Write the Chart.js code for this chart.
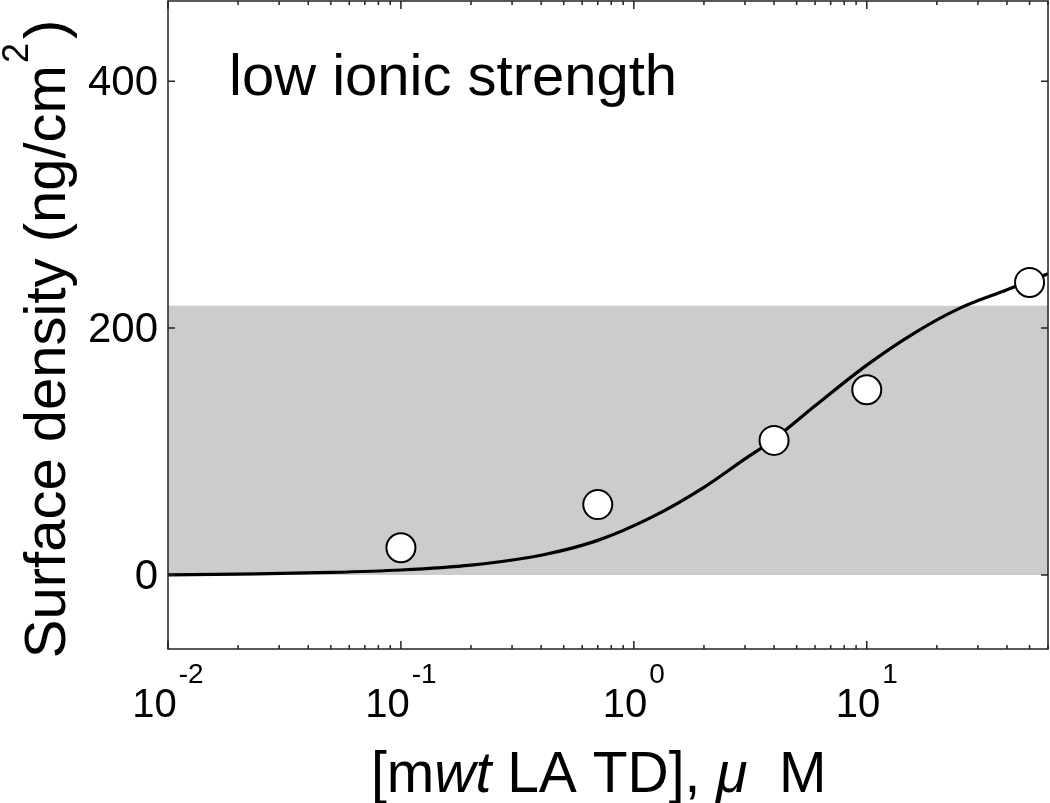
<!DOCTYPE html>
<html lang="en">
<head>
    <meta charset="UTF-8">
    <title>Surface density vs mwt LA TD</title>
    <script src="https://cdn.jsdelivr.net/npm/chart.js"></script>
    <style>
        body { margin: 0; background: #fff; }
        #wrap { width: 1050px; height: 803px; }
    </style>
</head>
<body>
    <div id="wrap"><canvas id="chart" width="1050" height="803"></canvas></div>

    <script>
        // measured points (open circles)
        const pointX = [0.1, 0.7, 4, 10, 50];
        const pointY = [22, 57, 109, 150, 237];

        // fitted curve
        const fitX = [0.01, 0.02, 0.05, 0.1, 0.2, 0.4, 0.7, 1.2, 2, 3, 4, 6, 10, 16, 25, 40, 60];
        const fitY = [0, 0.7, 2, 4, 8, 16, 28, 47, 71, 94, 110, 137, 170, 196, 216, 231, 244];

        // grey band from 0 up to this level
        const bandX = [0.01, 60];
        const bandTop = 218;

        const xMajorTicks = [0.01, 0.1, 1, 10];
        const xTickExp = ['-2', '-1', '0', '1'];
        const yTicks = [0, 200, 400];

        const FONT = '"Liberation Sans", Arial, Helvetica, sans-serif';

        // ticks, box and texts in MATLAB style
        const framePlugin = {
            id: 'frame',
            afterDatasetsDraw(chart) {
                const ctx = chart.ctx;
                const a = chart.chartArea;
                const xs = chart.scales.x;
                const ys = chart.scales.y;

                ctx.save();
                ctx.strokeStyle = '#222';
                ctx.lineWidth = 1.5;
                ctx.strokeRect(a.left, a.top, a.right - a.left, a.bottom - a.top);

                // x ticks, inward, bottom and top
                ctx.beginPath();
                for (let e = -2; e <= 1; e++) {
                    for (let m = 1; m <= 9; m++) {
                        const v = m * Math.pow(10, e);
                        if (v > xs.max) break;
                        const px = xs.getPixelForValue(v);
                        const len = m === 1 ? 8 : 4;
                        ctx.moveTo(px, a.bottom); ctx.lineTo(px, a.bottom - len);
                        ctx.moveTo(px, a.top); ctx.lineTo(px, a.top + len);
                    }
                }
                // y ticks, inward, left and right
                yTicks.forEach(v => {
                    const py = ys.getPixelForValue(v);
                    ctx.moveTo(a.left, py); ctx.lineTo(a.left + 7, py);
                    ctx.moveTo(a.right, py); ctx.lineTo(a.right - 7, py);
                });
                ctx.stroke();

                ctx.fillStyle = '#000';

                // y tick labels
                ctx.font = '42px ' + FONT;
                ctx.textAlign = 'right';
                ctx.textBaseline = 'middle';
                yTicks.forEach(v => {
                    ctx.fillText(String(v), a.left - 10, ys.getPixelForValue(v) + 2);
                });

                // x tick labels 10^n
                ctx.textBaseline = 'alphabetic';
                ctx.textAlign = 'left';
                xMajorTicks.forEach((v, i) => {
                    const px = xs.getPixelForValue(v);
                    ctx.font = '40px ' + FONT;
                    const w1 = ctx.measureText('10').width;
                    ctx.font = '28px ' + FONT;
                    const w2 = ctx.measureText(xTickExp[i]).width;
                    const x0 = px - (w1 + w2 + 2) / 2;
                    ctx.font = '40px ' + FONT;
                    ctx.fillText('10', x0, 717);
                    ctx.font = '28px ' + FONT;
                    ctx.fillText(xTickExp[i], x0 + w1 + 2, 683);
                });

                // annotation
                ctx.font = '58px ' + FONT;
                ctx.fillText('low ionic strength', 229, 95);

                // x title with italic parts
                const parts = [
                    ['[m', ''], ['wt', 'italic '], [' LA TD], ', ''], ['\u03bc', 'italic '], ['  M', '']
                ];
                let cx = 371;
                parts.forEach(p => {
                    ctx.font = p[1] + '57px ' + FONT;
                    ctx.fillText(p[0], cx, 792);
                    cx += ctx.measureText(p[0]).width;
                });

                // y title, rotated, with superscript 2
                ctx.translate(65, 340);
                ctx.rotate(-Math.PI / 2);
                ctx.font = '58px ' + FONT;
                const t1 = 'Surface density (ng/cm';
                const w1 = ctx.measureText(t1).width;
                ctx.font = '36px ' + FONT;
                const w2 = ctx.measureText('2').width + 4;
                ctx.font = '58px ' + FONT;
                const w3 = ctx.measureText(')').width;
                let ty = -(w1 + w2 + w3) / 2;
                ctx.fillText(t1, ty, 0);
                ty += w1 + 2;
                ctx.font = '36px ' + FONT;
                ctx.fillText('2', ty, -37);
                ty += w2;
                ctx.font = '58px ' + FONT;
                ctx.fillText(')', ty, 0);
                ctx.restore();
            }
        };

        const ctx = document.getElementById('chart').getContext('2d');
        const chart = new Chart(ctx, {
            type: 'line',
            data: {
                datasets: [
                    {
                        label: 'data',
                        data: pointX.map((x, i) => ({ x: x, y: pointY[i] })),
                        showLine: false,
                        pointRadius: 14.5,
                        pointBorderWidth: 2,
                        pointBackgroundColor: '#fff',
                        pointBorderColor: '#000',
                        order: 0
                    },
                    {
                        label: 'fit',
                        data: fitX.map((x, i) => ({ x: x, y: fitY[i] })),
                        borderColor: '#000',
                        borderWidth: 3.2,
                        pointRadius: 0,
                        cubicInterpolationMode: 'monotone',
                        fill: false,
                        order: 1
                    },
                    {
                        label: 'band',
                        data: bandX.map(x => ({ x: x, y: bandTop })),
                        borderWidth: 0,
                        pointRadius: 0,
                        backgroundColor: '#cccccc',
                        fill: { value: 0 },
                        order: 2
                    }
                ]
            },
            options: {
                responsive: false,
                animation: false,
                layout: { autoPadding: false, padding: { top: 1, right: 2, left: 0, bottom: 0 } },
                plugins: {
                    legend: { display: false },
                    tooltip: { enabled: false }
                },
                scales: {
                    x: {
                        type: 'logarithmic',
                        min: 0.01,
                        max: 60,
                        grid: { display: false },
                        border: { display: false },
                        ticks: { display: false },
                        afterFit: s => { s.height = 154; }
                    },
                    y: {
                        min: -60,
                        max: 465,
                        grid: { display: false },
                        border: { display: false },
                        ticks: { display: false },
                        afterFit: s => { s.width = 168; }
                    }
                }
            },
            plugins: [framePlugin]
        });
    </script>
</body>
</html>
